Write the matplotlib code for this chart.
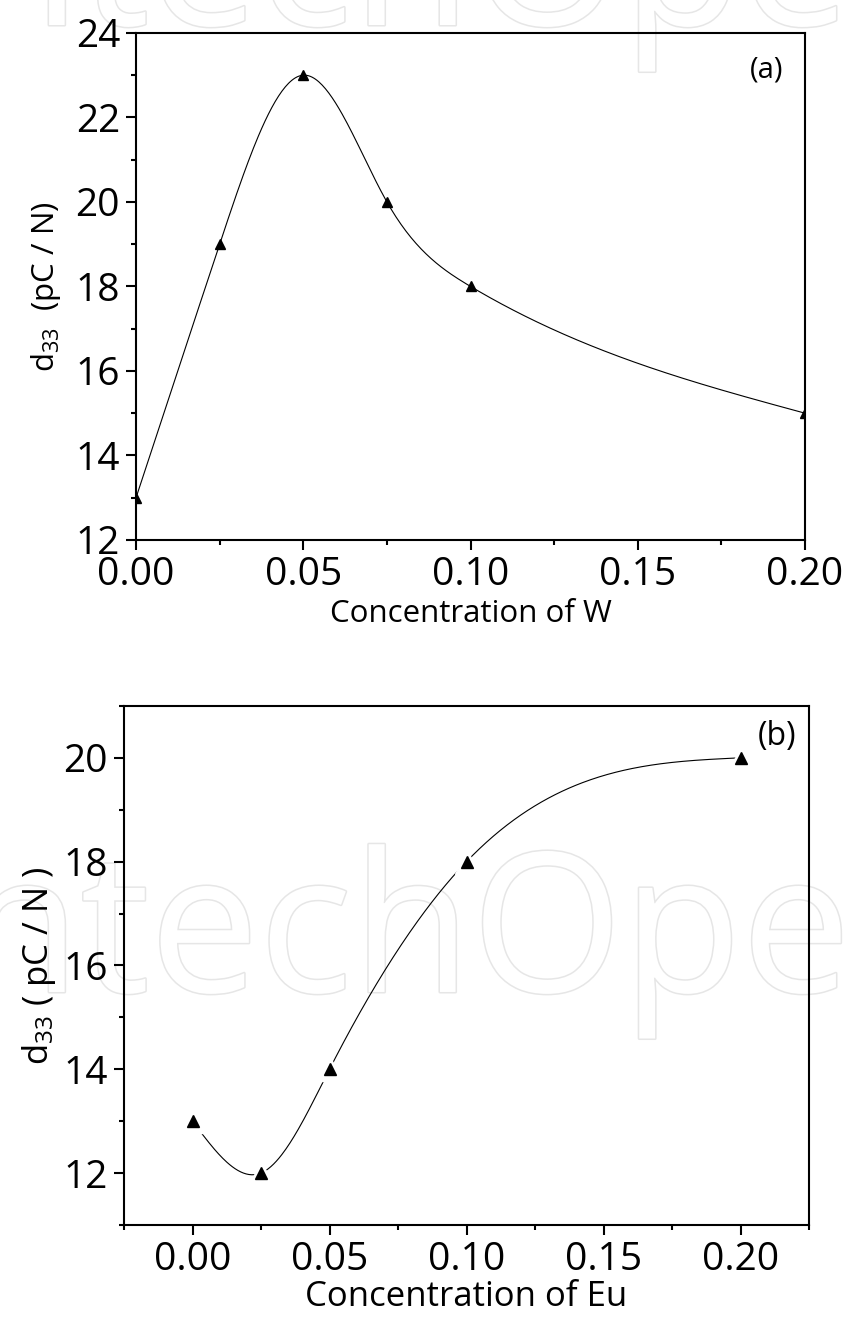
import numpy as np
import matplotlib
matplotlib.use("Agg")
import matplotlib.pyplot as plt
from matplotlib.ticker import MultipleLocator, FormatStrFormatter
import matplotlib.patheffects as pe

plt.rcParams['font.family'] = ['Open Sans', 'DejaVu Sans']
plt.rcParams['mathtext.default'] = 'regular'

# data
w_conc = [0.0, 0.025, 0.05, 0.075, 0.10, 0.20]
w_d33 = [13, 19, 23, 20, 18, 15]
eu_conc = [0.0, 0.025, 0.05, 0.10, 0.20]
eu_d33 = [13, 12, 14, 18, 20]


def natural_spline(x, y, n=400):
    # smooth connecting line through the measured points
    x = np.asarray(x, float)
    y = np.asarray(y, float)
    k = len(x)
    h = np.diff(x)
    A = np.zeros((k, k))
    b = np.zeros(k)
    A[0, 0] = A[-1, -1] = 1
    for i in range(1, k - 1):
        A[i, i - 1] = h[i - 1]
        A[i, i] = 2 * (h[i - 1] + h[i])
        A[i, i + 1] = h[i]
        b[i] = 6 * ((y[i + 1] - y[i]) / h[i] - (y[i] - y[i - 1]) / h[i - 1])
    M = np.linalg.solve(A, b)
    xs = np.linspace(x[0], x[-1], n)
    idx = np.clip(np.searchsorted(x, xs) - 1, 0, k - 2)
    x0, x1 = x[idx], x[idx + 1]
    hh = x1 - x0
    t0, t1 = x1 - xs, xs - x0
    ys = (M[idx] * t0**3 + M[idx + 1] * t1**3) / (6 * hh) \
        + (y[idx] / hh - M[idx] * hh / 6) * t0 \
        + (y[idx + 1] / hh - M[idx + 1] * hh / 6) * t1
    return xs, ys


fig = plt.figure(figsize=(8.46, 13.17), dpi=100)

# faint watermark, kept behind everything
for yy in [0.981, 0.2468]:
    fig.text(-0.11, yy, "IntechOpen", fontsize=140, color='white', ha='left',
             va='baseline', zorder=-10,
             path_effects=[pe.withStroke(linewidth=2.2, foreground='#e6e6e6')])


def style_axes(ax):
    ax.set_facecolor('none')
    for s in ax.spines.values():
        s.set_linewidth(1.5)
    ax.tick_params(which='both', direction='out', width=1.5, top=False, right=False)
    ax.tick_params(which='major', length=7.5, labelsize=28, pad=4)
    ax.tick_params(which='minor', length=3.8)


# (a)
ax1 = fig.add_axes([0.1608, 0.5900, 0.7908, 0.3850])
style_axes(ax1)
xs, ys = natural_spline(w_conc, w_d33)
ax1.plot(xs, ys, color='black', lw=0.8)
ax1.plot(w_conc, w_d33, ls='none', marker='^', ms=7, color='black')
ax1.set_xlim(0, 0.20)
ax1.set_ylim(12, 24)
ax1.xaxis.set_major_locator(MultipleLocator(0.05))
ax1.xaxis.set_minor_locator(MultipleLocator(0.025))
ax1.yaxis.set_major_locator(MultipleLocator(2))
ax1.yaxis.set_minor_locator(MultipleLocator(1))
ax1.xaxis.set_major_formatter(FormatStrFormatter('%.2f'))
ax1.set_xlabel("Concentration of W", fontsize=22.5, labelpad=4)
ax1.set_ylabel("d$_{33}$  (pC / N)", fontsize=22.5, labelpad=9)
ax1.text(0.967, 0.927, "(a)", transform=ax1.transAxes, fontsize=21,
         ha='right', va='center')

# (b)
ax2 = fig.add_axes([0.1466, 0.0699, 0.8097, 0.3941])
style_axes(ax2)
xs, ys = natural_spline(eu_conc, eu_d33)
ax2.plot(xs, ys, color='black', lw=0.8)
ax2.plot(eu_conc, eu_d33, ls='none', marker='^', ms=17, color='white')
ax2.plot(eu_conc, eu_d33, ls='none', marker='^', ms=8.5, color='black')
ax2.set_xlim(-0.025, 0.225)
ax2.set_ylim(11, 21)
ax2.xaxis.set_major_locator(MultipleLocator(0.05))
ax2.xaxis.set_minor_locator(MultipleLocator(0.025))
ax2.yaxis.set_major_locator(MultipleLocator(2))
ax2.yaxis.set_minor_locator(MultipleLocator(1))
ax2.xaxis.set_major_formatter(FormatStrFormatter('%.2f'))
ax2.set_xlabel("Concentration of Eu", fontsize=25, labelpad=1)
ax2.set_ylabel("d$_{33}$ ( pC / N )", fontsize=25, labelpad=4)
ax2.text(0.982, 0.942, "(b)", transform=ax2.transAxes, fontsize=23,
         ha='right', va='center')

fig.savefig("out.png", dpi=100)
